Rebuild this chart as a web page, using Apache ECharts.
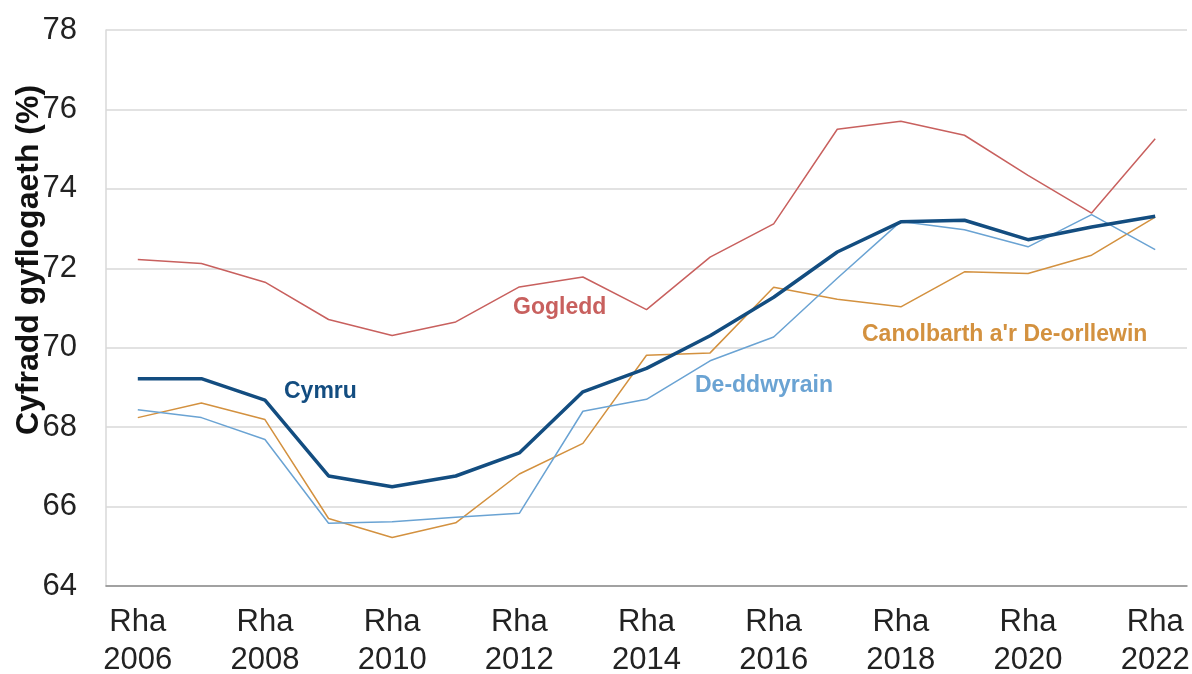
<!DOCTYPE html>
<html>
<head>
<meta charset="utf-8">
<script src="https://cdn.jsdelivr.net/npm/echarts@6/dist/echarts.min.js"></script>
<style>html,body{margin:0;padding:0;background:#fff;}#c{width:1192px;height:674px;}</style>
</head>
<body>
<div id="c"></div>
<script>
const years = ['2006','2007','2008','2009','2010','2011','2012','2013','2014','2015','2016','2017','2018','2019','2020','2021','2022'];
const gogledd = [72.22,72.12,71.65,70.71,70.31,70.65,71.53,71.78,70.96,72.28,73.12,75.50,75.70,75.35,74.34,73.39,75.26];
const cymru = [69.22,69.22,68.68,66.77,66.50,66.77,67.35,68.89,69.48,70.30,71.27,72.41,73.17,73.21,72.72,73.04,73.31];
const deddwyrain = [68.44,68.24,67.69,65.58,65.62,65.73,65.83,68.40,68.70,69.67,70.27,71.75,73.18,72.97,72.54,73.35,72.47];
const canolbarth = [68.24,68.61,68.19,65.70,65.22,65.59,66.82,67.59,69.81,69.87,71.52,71.22,71.03,71.91,71.87,72.33,73.29];
const yTicks = {min: 64, max: 78, interval: 2};

const chart = echarts.init(document.getElementById('c'));
const font = 'Liberation Sans, Arial, sans-serif';
chart.setOption({
  animation: false,
  grid: {left: 106, right: 5, top: 30, bottom: 88, outerBoundsMode: 'none', containLabel: false},
  xAxis: {
    type: 'category',
    data: years,
    boundaryGap: true,
    axisLine: {lineStyle: {color: '#8c8c8c', width: 1.5}},
    axisTick: {show: false},
    axisLabel: {
      interval: 1,
      formatter: v => 'Rha\n' + v,
      fontFamily: font, fontSize: 31, color: '#222', lineHeight: 38, margin: 17
    },
    splitLine: {show: false}
  },
  yAxis: {
    type: 'value',
    min: yTicks.min, max: yTicks.max, interval: yTicks.interval,
    axisLine: {show: true, lineStyle: {color: '#d9d9d9', width: 1.5}},
    axisTick: {show: false},
    axisLabel: {fontFamily: font, fontSize: 31, color: '#222', margin: 29},
    splitLine: {lineStyle: {color: '#d9d9d9', width: 1.5}}
  },
  series: [
    {name: 'Gogledd', type: 'line', data: gogledd, symbol: 'none', lineStyle: {color: '#c8605e', width: 1.5}, z: 2},
    {name: 'Canolbarth a\'r De-orllewin', type: 'line', data: canolbarth, symbol: 'none', lineStyle: {color: '#d3913f', width: 1.5}, z: 3},
    {name: 'De-ddwyrain', type: 'line', data: deddwyrain, symbol: 'none', lineStyle: {color: '#6aa3d3', width: 1.5}, z: 4},
    {name: 'Cymru', type: 'line', data: cymru, symbol: 'none', lineStyle: {color: '#134d80', width: 3.5}, z: 5}
  ],
  graphic: [
    {type: 'text', x: 29, y: 260, rotation: Math.PI / 2,
     style: {text: 'Cyfradd gyflogaeth (%)', font: 'bold 32px ' + font, fill: '#111', align: 'center', verticalAlign: 'middle'}},
    {type: 'text', left: 513, top: 296, style: {text: 'Gogledd', font: 'bold 23px ' + font, fill: '#c8605e'}},
    {type: 'text', left: 284, top: 380, style: {text: 'Cymru', font: 'bold 23px ' + font, fill: '#134d80'}},
    {type: 'text', left: 695, top: 374, style: {text: 'De-ddwyrain', font: 'bold 23px ' + font, fill: '#6aa3d3'}},
    {type: 'text', left: 862, top: 323, style: {text: 'Canolbarth a\'r De-orllewin', font: 'bold 23px ' + font, fill: '#d3913f'}}
  ]
});
</script>
</body>
</html>
